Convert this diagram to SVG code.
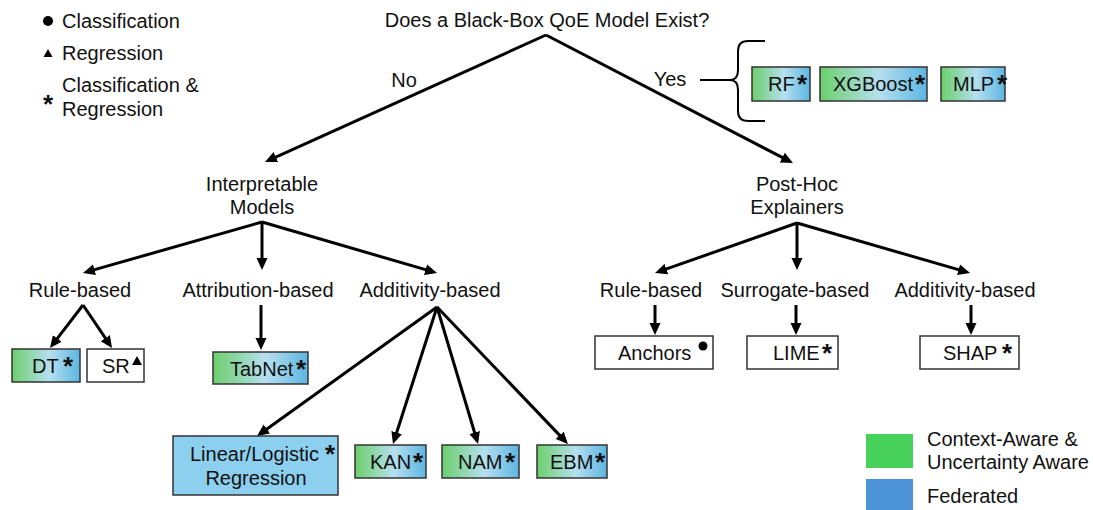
<svg xmlns="http://www.w3.org/2000/svg" width="1093" height="510" viewBox="0 0 1093 510">
  <defs>
    <linearGradient id="mix" x1="0" y1="0" x2="1" y2="0">
      <stop offset="0" stop-color="#6ccf6c"/>
      <stop offset="0.55" stop-color="#b6dfef"/>
      <stop offset="1" stop-color="#5db6e2"/>
    </linearGradient>
    <marker id="arrow" markerUnits="userSpaceOnUse" markerWidth="14" markerHeight="12" refX="8" refY="6" orient="auto">
      <path d="M0,0.5 L12,6 L0,11.5 z" fill="#000"/>
    </marker>
    <style>
      text { font-family: "Liberation Sans", Arial, sans-serif; font-size: 20px; fill: #111; }
      .c { text-anchor: middle; }
      .star { font-size: 26px; font-weight: bold; text-anchor: middle; }
      .box { stroke: #333; stroke-width: 1.5; }
      .grad { fill: url(#mix); }
      .plain { fill: #fff; }
      .blue { fill: #8ccfee; }
      .edge { stroke: #000; stroke-width: 3; fill: none; }
      .arr { marker-end: url(#arrow); }
    </style>
  </defs>

  <!-- legend: task types -->
  <g id="legend-tasks">
    <circle cx="48" cy="21" r="5" fill="#000"/>
    <text x="62" y="28">Classification</text>
    <path d="M43.5,57 L48,49 L52.5,57 z" fill="#000"/>
    <text x="62" y="60">Regression</text>
    <text class="star" x="48" y="113">*</text>
    <text x="62" y="92">Classification &amp;</text>
    <text x="62" y="116">Regression</text>
  </g>

  <!-- legend: colour key -->
  <g id="legend-colors">
    <rect x="866" y="434" width="47" height="34" fill="#47d15b"/>
    <text x="927" y="446">Context-Aware &amp;</text>
    <text x="927" y="469">Uncertainty Aware</text>
    <rect x="866" y="479" width="47" height="31" fill="#4c93d8"/>
    <text x="927" y="503">Federated</text>
  </g>

  <!-- connectors -->
  <g id="connectors">
    <path class="edge arr" d="M546,35 L268.6,160.4"/>
    <path class="edge arr" d="M546,35 L789.4,161.2"/>

    <path class="edge arr" d="M262,222 L86.8,271.9"/>
    <path class="edge arr" d="M262,222 L262,266"/>
    <path class="edge arr" d="M262,222 L433.2,271.9"/>

    <path class="edge arr" d="M797,223 L658.8,271.7"/>
    <path class="edge arr" d="M797,223 L797,266"/>
    <path class="edge arr" d="M797,223 L966.2,271.9"/>

    <path class="edge arr" d="M83,305 L52.4,344.8"/>
    <path class="edge arr" d="M83,305 L109.8,344.7"/>
    <path class="edge arr" d="M261,305 L261,346"/>

    <path class="edge arr" d="M437,307 L260.3,433.7"/>
    <path class="edge arr" d="M437,307 L394.2,440.2"/>
    <path class="edge arr" d="M437,307 L476.9,440.2"/>
    <path class="edge arr" d="M437,307 L565.2,441.1"/>

    <path class="edge arr" d="M655,305 L655,331"/>
    <path class="edge arr" d="M796,305 L796,331"/>
    <path class="edge arr" d="M971,305 L971,331"/>

    <!-- brace grouping the black-box models -->
    <path d="M700,80 L730,80" stroke="#000" stroke-width="2" fill="none"/>
    <path d="M765,41 L748,41 Q738,41 738,51 L738,70 Q738,80 730,80 Q738,80 738,90 L738,111 Q738,121 748,121 L765,121" stroke="#000" stroke-width="2" fill="none"/>
  </g>

  <!-- root question -->
  <g id="root">
    <text class="c" x="547" y="27">Does a Black-Box QoE Model Exist?</text>
  </g>
  <g id="label-no"><text class="c" x="404" y="87">No</text></g>
  <g id="label-yes"><text class="c" x="670" y="86">Yes</text></g>

  <!-- black-box models -->
  <g id="rf">
    <rect class="box grad" x="752" y="67" width="58" height="34"/>
    <text x="768" y="91">RF</text>
    <text class="star" x="802" y="93">*</text>
  </g>
  <g id="xgboost">
    <rect class="box grad" x="820" y="67" width="107" height="34"/>
    <text x="833" y="91">XGBoost</text>
    <text class="star" x="920" y="93">*</text>
  </g>
  <g id="mlp">
    <rect class="box grad" x="941" y="67" width="64" height="34"/>
    <text x="953" y="91">MLP</text>
    <text class="star" x="1002" y="93">*</text>
  </g>

  <!-- second level -->
  <g id="interpretable">
    <text class="c" x="262" y="191">Interpretable</text>
    <text class="c" x="262" y="214">Models</text>
  </g>
  <g id="posthoc">
    <text class="c" x="797" y="191">Post-Hoc</text>
    <text class="c" x="797" y="214">Explainers</text>
  </g>

  <!-- third level -->
  <g id="rule-based-i"><text class="c" x="80" y="297">Rule-based</text></g>
  <g id="attribution-based"><text class="c" x="258" y="297">Attribution-based</text></g>
  <g id="additivity-based-i"><text class="c" x="430" y="297">Additivity-based</text></g>
  <g id="rule-based-p"><text class="c" x="651" y="297">Rule-based</text></g>
  <g id="surrogate-based"><text class="c" x="795" y="297">Surrogate-based</text></g>
  <g id="additivity-based-p"><text class="c" x="965" y="297">Additivity-based</text></g>

  <!-- interpretable model leaves -->
  <g id="dt">
    <rect class="box grad" x="12" y="349" width="68" height="33"/>
    <text x="32" y="373">DT</text>
    <text class="star" x="68" y="375">*</text>
  </g>
  <g id="sr">
    <rect class="box plain" x="87" y="349" width="57" height="33"/>
    <text x="102" y="373">SR</text>
    <path d="M132,365 L137,356 L142,365 z" fill="#000"/>
  </g>
  <g id="tabnet">
    <rect class="box grad" x="213" y="352" width="95" height="32"/>
    <text x="230" y="376">TabNet</text>
    <text class="star" x="301" y="378">*</text>
  </g>
  <g id="linear">
    <rect class="box blue" x="173" y="436" width="165" height="59"/>
    <text x="190" y="461">Linear/Logistic</text>
    <text class="c" x="256" y="485">Regression</text>
    <text class="star" x="330" y="463">*</text>
  </g>
  <g id="kan">
    <rect class="box grad" x="355" y="445" width="71" height="33"/>
    <text x="370" y="469">KAN</text>
    <text class="star" x="418" y="471">*</text>
  </g>
  <g id="nam">
    <rect class="box grad" x="442" y="445" width="77" height="33"/>
    <text x="458" y="469">NAM</text>
    <text class="star" x="510" y="471">*</text>
  </g>
  <g id="ebm">
    <rect class="box grad" x="537" y="445" width="70" height="33"/>
    <text x="550" y="469">EBM</text>
    <text class="star" x="600" y="471">*</text>
  </g>

  <!-- post-hoc explainer leaves -->
  <g id="anchors">
    <rect class="box plain" x="595" y="336" width="118" height="33"/>
    <text x="618" y="360">Anchors</text>
    <circle cx="703" cy="346" r="4.5" fill="#000"/>
  </g>
  <g id="lime">
    <rect class="box plain" x="747" y="336" width="91" height="33"/>
    <text x="773" y="360">LIME</text>
    <text class="star" x="827" y="362">*</text>
  </g>
  <g id="shap">
    <rect class="box plain" x="920" y="336" width="99" height="33"/>
    <text x="943" y="360">SHAP</text>
    <text class="star" x="1007" y="362">*</text>
  </g>
</svg>
